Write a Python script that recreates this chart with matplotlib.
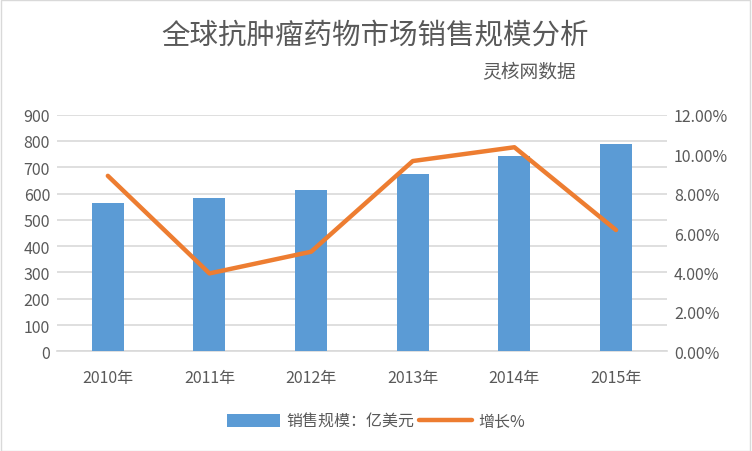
import matplotlib
matplotlib.use("Agg")
import matplotlib.pyplot as plt
from matplotlib.patches import Rectangle
from matplotlib.ticker import FuncFormatter

plt.rcParams['font.family'] = ['Noto Sans CJK SC', 'DejaVu Sans']

# data
years = ["2010年", "2011年", "2012年", "2013年", "2014年", "2015年"]
sales = [564, 583, 613, 674, 742, 788]
growth = [8.9, 3.95, 5.05, 9.65, 10.35, 6.15]

fig = plt.figure(figsize=(7.52, 4.52), dpi=100)
ax = fig.add_axes([0.0758, 0.2206, 0.811, 0.5234])
ax2 = ax.twinx()

x = range(len(years))
bars = ax.bar(x, sales, width=0.315, color="#5b9bd5", zorder=3, label="销售规模：亿美元")
line, = ax2.plot(x, growth, color="#ed7d31", lw=3.2, solid_capstyle="round",
                 zorder=4, label="增长%")

ax.set_xlim(-0.5, 5.5)
ax.set_ylim(0, 900)
ax.set_yticks(range(0, 901, 100))
ax2.set_ylim(0, 12)
ax2.set_yticks(range(0, 13, 2))
ax2.yaxis.set_major_formatter(FuncFormatter(lambda v, p: f"{v:.2f}%"))

ax.grid(axis="y", color="#d9d9d9", lw=1.2, zorder=0)
ax.set_axisbelow(True)
for a in (ax, ax2):
    for s in a.spines.values():
        s.set_visible(False)
    a.tick_params(length=0, labelsize=11.5, colors="#595959")
ax.spines["bottom"].set_visible(True)
ax.spines["bottom"].set_color("#d9d9d9")
ax.spines["bottom"].set_linewidth(1.2)
ax.set_xticks(list(x))
ax.set_xticklabels(years)
ax.tick_params(axis="x", pad=13)
ax.tick_params(axis="y", pad=5)
ax2.tick_params(axis="y", pad=5)

fig.text(0.499, 0.922, "全球抗肿瘤药物市场销售规模分析", ha="center", va="center",
         fontsize=20.5, color="#595959")
fig.text(0.703, 0.838, "灵核网数据", ha="center", va="center",
         fontsize=13.5, color="#595959")

fig.legend(handles=[bars, line], loc="center", bbox_to_anchor=(0.5, 0.066),
           ncol=2, frameon=False, fontsize=11.5, labelcolor="#595959",
           handlelength=3.3, handleheight=0.9, columnspacing=0.3, handletextpad=0.4)

fig.add_artist(Rectangle((0.001, 0.001), 0.997, 0.997, transform=fig.transFigure,
                         fill=False, edgecolor="#d9d9d9", lw=1))

fig.savefig("out.png", dpi=100)
